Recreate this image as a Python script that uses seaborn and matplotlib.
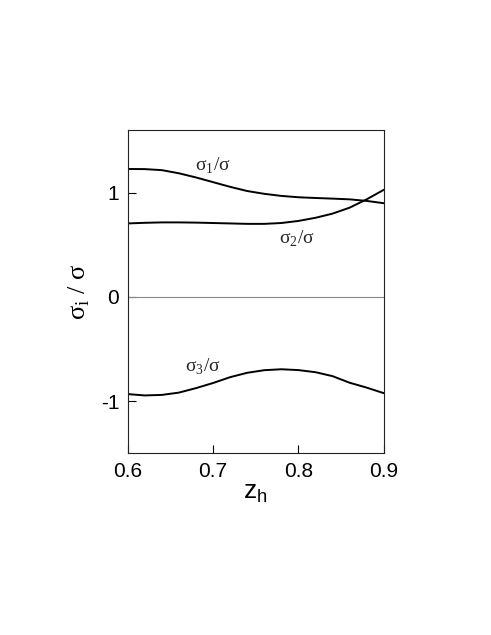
import matplotlib
matplotlib.use("Agg")
import matplotlib.pyplot as plt
import pandas as pd
import seaborn as sns

# Dados
z_h = [0.60, 0.62, 0.64, 0.66, 0.68, 0.70, 0.72, 0.74, 0.76, 0.78, 0.80, 0.82, 0.84, 0.86, 0.88, 0.90]
sigma1 = [1.226, 1.225, 1.215, 1.185, 1.145, 1.100, 1.055, 1.015, 0.988, 0.968, 0.955, 0.948, 0.942, 0.935, 0.920, 0.898]
sigma2 = [0.704, 0.710, 0.714, 0.714, 0.712, 0.708, 0.704, 0.700, 0.700, 0.708, 0.728, 0.758, 0.798, 0.855, 0.935, 1.026]
sigma3 = [-0.932, -0.945, -0.940, -0.918, -0.875, -0.826, -0.770, -0.728, -0.703, -0.694, -0.702, -0.722, -0.760, -0.823, -0.870, -0.923]

x_ticks = [0.6, 0.7, 0.8, 0.9]
y_ticks = [-1, 0, 1]

sns.set_style("ticks")
plt.rcParams['font.family'] = ['Liberation Sans', 'DejaVu Sans']
plt.rcParams['mathtext.fontset'] = 'custom'
plt.rcParams['mathtext.rm'] = 'Liberation Sans'

df = pd.DataFrame({'z': z_h, 's1': sigma1, 's2': sigma2, 's3': sigma3})

fig = plt.figure(figsize=(4.91, 6.35), dpi=100)
ax = fig.add_axes([0.260, 0.2861, 0.5215, 0.5092])

# Linhas
for col in ['s1', 's2', 's3']:
    sns.lineplot(x='z', y=col, data=df, ax=ax, color='black', linewidth=1.4)
ax.axhline(0, color='#888888', linewidth=0.8)

# Rótulos das curvas (sigma reto, como no original)
serif = ['Liberation Serif', 'DejaVu Serif']
ax.text(0.700, 1.258, r'σ$_\mathregular{1}$/σ', fontsize=14, ha='center', va='center', family=serif)
ax.text(0.798, 0.56, r'σ$_\mathregular{2}$/σ', fontsize=14, ha='center', va='center', family=serif)
ax.text(0.688, -0.67, r'σ$_\mathregular{3}$/σ', fontsize=14, ha='center', va='center', family=serif)

# Eixos
ax.set_xlim(0.6, 0.9)
ax.set_ylim(-1.5, 1.6)
ax.set_xticks(x_ticks)
ax.set_xticklabels([f'{t:.1f}' for t in x_ticks])
ax.set_yticks(y_ticks)
ax.set_yticklabels([str(t) for t in y_ticks])
ax.tick_params(direction='in', length=6, width=0.8, labelsize=15, pad=6,
               colors='black')
for s in ax.spines.values():
    s.set_linewidth(0.8)
    s.set_color('#222222')

ax.set_xlabel(r'z$_\mathregular{h}$', fontsize=19, labelpad=0, color='black')
ax.set_ylabel(r'σ$_\mathregular{i}$ / σ', fontsize=19, labelpad=6, family=serif, color='black')

fig.savefig('out.png', dpi=100)
